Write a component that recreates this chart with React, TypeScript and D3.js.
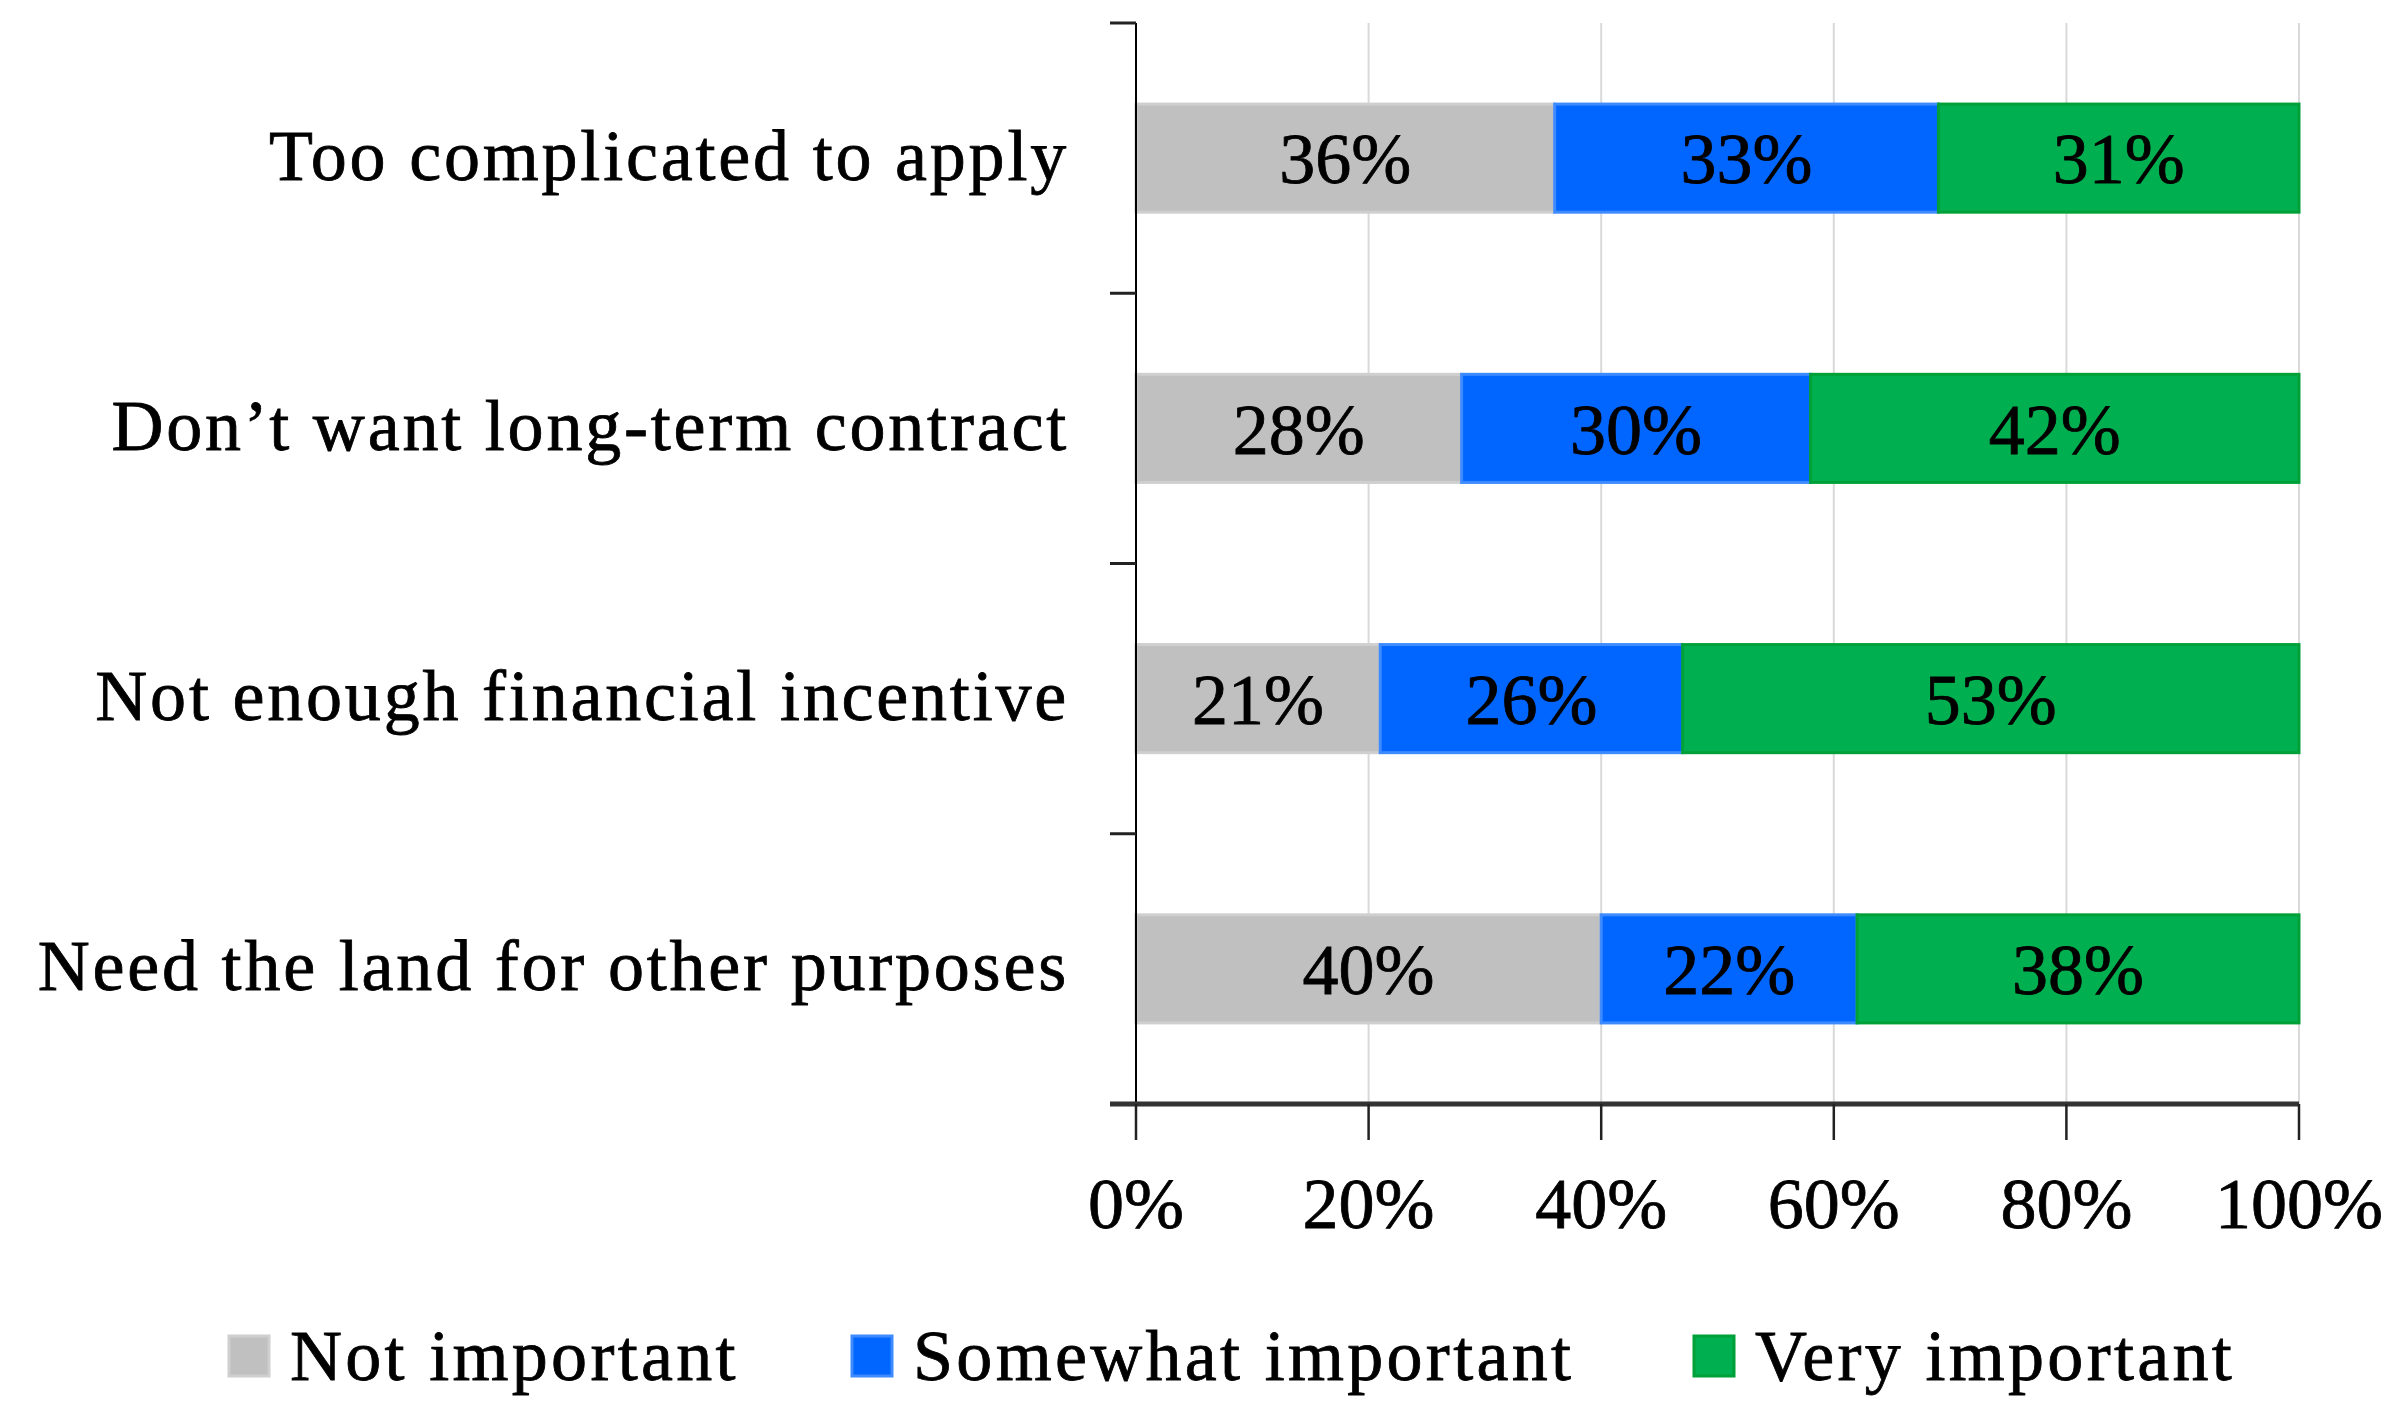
import { useMemo } from "react";
import * as d3 from "d3";

const W = 2397;
const H = 1426;

const categories = [
  "Too complicated to apply",
  "Don\u2019t want long-term contract",
  "Not enough financial incentive",
  "Need the land for other purposes",
];
const seriesNames = ["Not important", "Somewhat important", "Very important"];
const notImportant = [36, 28, 21, 40];
const somewhatImportant = [33, 30, 26, 22];
const veryImportant = [31, 42, 53, 38];
const xTicks = [0, 20, 40, 60, 80, 100];

const fills = ["#c0c0c0", "#0066ff", "#00b050"];
const strokes = ["#cfcfcf", "#3d8bff", "#00a038"];

const FONT = "'Palatino Linotype', 'Book Antiqua', Palatino, 'Liberation Serif', serif";

export default function App() {
  const m = { left: 1136, right: 2299, top: 23, bottom: 1104 };

  const x = useMemo(
    () => d3.scaleLinear().domain([0, 100]).range([m.left, m.right]),
    []
  );
  const y = useMemo(
    () => d3.scaleBand<string>().domain(categories).range([m.top, m.bottom]).paddingInner(0.6).paddingOuter(0.3),
    []
  );
  // band edges for category ticks
  const step = (m.bottom - m.top) / categories.length;
  const catTicks = d3.range(categories.length + 1).map((i) => m.top + i * step);

  const rows = categories.map((c, i) => {
    const vals = [notImportant[i], somewhatImportant[i], veryImportant[i]];
    const cum = d3.cumsum(vals);
    return { c, segs: vals.map((v, j) => ({ v, j, x0: cum[j] - v, x1: cum[j] })) };
  });

  const legendX = [229, 852, 1694];

  return (
    <svg
      width={W}
      height={H}
      style={{ position: "absolute", left: 0, top: 0, background: "#fff" }}
      fontFamily={FONT}
    >
      {/* gridlines */}
      {xTicks.slice(1).map((t) => (
        <line key={t} x1={x(t)} x2={x(t)} y1={m.top} y2={m.bottom} stroke="#d9d9d9" strokeWidth={2} />
      ))}

      {/* bars */}
      {rows.map((r) =>
        r.segs.map((s) => (
          <g key={r.c + s.j}>
            <rect
              x={x(s.x0)}
              y={y(r.c)!}
              width={x(s.x1) - x(s.x0)}
              height={y.bandwidth()}
              fill={fills[s.j]}
              stroke={strokes[s.j]}
              strokeWidth={3}
            />
            <text
              x={(x(s.x0) + x(s.x1)) / 2}
              y={y(r.c)! + y.bandwidth() / 2}
              dy="0.35em"
              textAnchor="middle"
              fontSize={72}
              fill="#000"
              stroke="#000"
              strokeWidth={0.8}
            >
              {s.v}%
            </text>
          </g>
        ))
      )}

      {/* y axis */}
      <line x1={m.left} x2={m.left} y1={m.top} y2={m.bottom} stroke="#000" strokeWidth={2} />
      {catTicks.map((t, i) => (
        <line key={i} x1={m.left - 26} x2={m.left} y1={t} y2={t} stroke="#222" strokeWidth={3} />
      ))}
      {categories.map((c) => (
        <text
          key={c}
          x={1069}
          y={y(c)! + y.bandwidth() / 2}
          dy="0.3em"
          textAnchor="end"
          fontSize={72}
          letterSpacing={2.8}
          fill="#000"
          stroke="#000"
          strokeWidth={0.8}
        >
          {c}
        </text>
      ))}

      {/* x axis */}
      <line x1={m.left - 26} x2={m.right} y1={m.bottom} y2={m.bottom} stroke="#333" strokeWidth={5} />
      {xTicks.map((t) => (
        <g key={t}>
          <line x1={x(t)} x2={x(t)} y1={m.bottom} y2={m.bottom + 36} stroke="#222" strokeWidth={2.5} />
          <text x={x(t)} y={1228} textAnchor="middle" fontSize={72} fill="#000" stroke="#000" strokeWidth={0.8}>
            {t}%
          </text>
        </g>
      ))}

      {/* legend */}
      {seriesNames.map((n, i) => (
        <g key={n}>
          <rect x={legendX[i]} y={1336} width={40} height={40} fill={fills[i]} stroke={strokes[i]} strokeWidth={3} />
          <text
            x={legendX[i] + 61}
            y={1380}
            fontSize={72}
            letterSpacing={3.3}
            fill="#000"
            stroke="#000"
            strokeWidth={0.8}
          >
            {n}
          </text>
        </g>
      ))}
    </svg>
  );
}
